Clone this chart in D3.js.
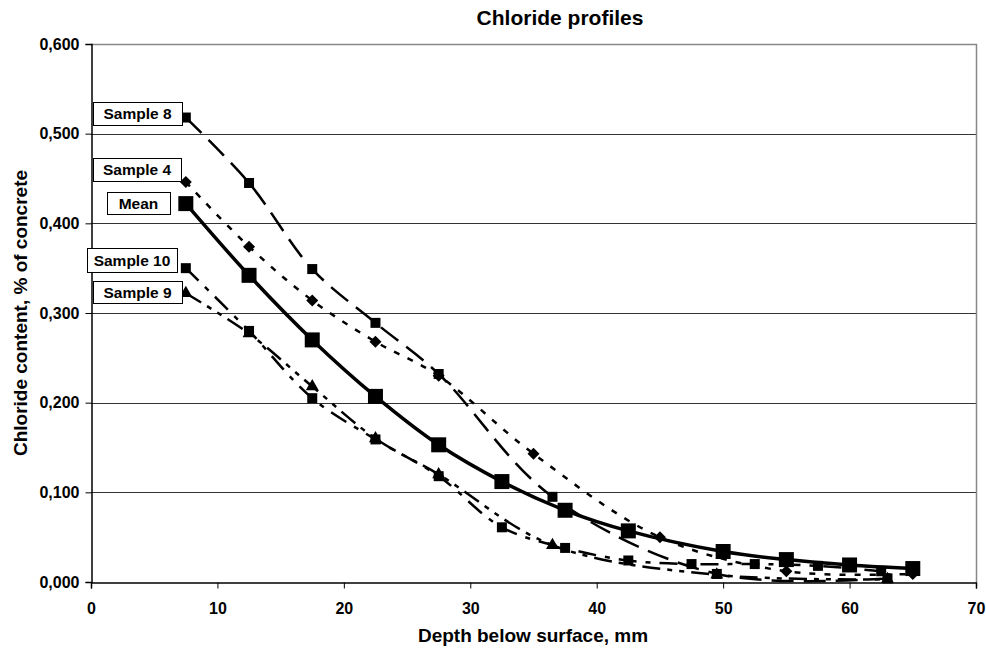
<!DOCTYPE html>
<html>
<head>
<meta charset="utf-8">
<script src="https://cdn.jsdelivr.net/npm/d3@7"></script>
<style>
body{margin:0;background:#fff}
text{font-family:"Liberation Sans",Arial,sans-serif;font-weight:bold;fill:#000}
</style>
</head>
<body>
<svg width="986" height="651"></svg>
<script>
// depth (mm) and chloride content (% of concrete)
let depth8 = [7.5,12.5,17.5,22.5,27.5,36.5,49.5,63];
let sample8 = [0.518,0.445,0.349,0.289,0.232,0.095,0.009,0.004];

let depth4 = [7.5,12.5,17.5,22.5,27.5,35,45,55,65];
let sample4 = [0.446,0.374,0.314,0.268,0.230,0.143,0.050,0.012,0.009];

let depthMean = [7.5,12.5,17.5,22.5,27.5,32.5,37.5,42.5,50,55,60,65];
let mean = [0.422,0.342,0.270,0.207,0.153,0.112,0.080,0.057,0.034,0.025,0.019,0.015];

let depth10 = [7.5,12.5,17.5,22.5,27.5,32.5,37.5,42.5,47.5,52.5,57.5,62.5];
let sample10 = [0.350,0.280,0.205,0.159,0.118,0.061,0.038,0.024,0.020,0.020,0.018,0.012];

let depth9 = [7.5,12.5,17.5,22.5,27.5,36.5,49.5,63];
let sample9 = [0.322,0.277,0.218,0.160,0.120,0.041,0.008,0.003];

let xTicks = [0,10,20,30,40,50,60,70];
let yTicks = [0,0.1,0.2,0.3,0.4,0.5,0.6];

let series = [
  {name:"Sample 8", xs:depth8, ys:sample8, dash:"22,10", w:2.5, marker:"square", size:10},
  {name:"Sample 4", xs:depth4, ys:sample4, dash:"6,9", w:2.5, marker:"diamond", size:8.5},
  {name:"Sample 10", xs:depth10, ys:sample10, dash:"18,9,5,9", w:2.5, marker:"square", size:10},
  {name:"Sample 9", xs:depth9, ys:sample9, dash:"18,7,5,7,5,7", w:2.5, marker:"triangle", size:11},
  {name:"Mean", xs:depthMean, ys:mean, dash:null, w:3.5, marker:"square", size:15}
];

// label boxes next to the first point of each series
let labels = [
  {t:"Sample 8", x:93, y:102, w:89, h:23},
  {t:"Sample 4", x:93, y:158, w:88, h:23},
  {t:"Mean", x:107, y:192, w:63, h:22},
  {t:"Sample 10", x:87, y:248, w:90, h:24},
  {t:"Sample 9", x:93, y:281, w:89, h:22}
];

let svg = d3.select("svg");

let x = d3.scaleLinear().domain([0,70]).range([91,976]);
let y = d3.scaleLinear().domain([0,0.6]).range([582,44]);

// gridlines
svg.append("g")
  .selectAll("line")
  .data(yTicks.filter(d=>d>0 && d<0.6))
  .join("line")
    .attr("x1",91).attr("x2",976)
    .attr("y1",d=>Math.round(y(d))+0.5).attr("y2",d=>Math.round(y(d))+0.5)
    .attr("stroke","#333").attr("stroke-width",1);

// plot border top/right
svg.append("path")
  .attr("d",`M91,${y(0.6)+0.5}H${x(70)+0.5}V${y(0)}`)
  .attr("fill","none").attr("stroke","#888").attr("stroke-width",1.5);

let fmt = d=>d3.format(".3f")(d).replace(".",",");

let yAxis = svg.append("g")
  .attr("transform","translate(91.5,0)")
  .call(d3.axisLeft(y).tickValues(yTicks).tickFormat(fmt).tickSize(6).tickPadding(6));
yAxis.select(".domain").attr("stroke","#000").attr("stroke-width",1.5);
yAxis.selectAll("text").attr("font-size",16).attr("font-family","Liberation Sans, Arial, sans-serif").attr("font-weight","bold");

let xAxis = svg.append("g")
  .attr("transform","translate(0,582.5)")
  .call(d3.axisBottom(x).tickValues(xTicks).tickFormat(d3.format("d")).tickSize(6).tickPadding(14));
xAxis.select(".domain").attr("stroke","#000").attr("stroke-width",1.5);
xAxis.selectAll("text").attr("font-size",16).attr("font-family","Liberation Sans, Arial, sans-serif").attr("font-weight","bold");

// series lines
let line = d3.line()
  .x(d=>x(d[0])).y(d=>y(d[1]))
  .curve(d3.curveCatmullRom.alpha(0.5));

let sym = {square:d3.symbolSquare, diamond:d3.symbolSquare, triangle:d3.symbolTriangle};

series.forEach(s=>{
  let pts = s.xs.map((v,i)=>[v,s.ys[i]]);
  svg.append("path")
    .datum(pts)
    .attr("d",line)
    .attr("fill","none")
    .attr("stroke","#000")
    .attr("stroke-width",s.w)
    .attr("stroke-dasharray",s.dash);
  svg.append("g")
    .selectAll("path")
    .data(pts)
    .join("path")
      .attr("transform",d=>`translate(${x(d[0])},${y(d[1])})` + (s.marker=="diamond" ? " rotate(45)" : ""))
      .attr("d",d3.symbol().type(sym[s.marker]).size(s.marker=="triangle" ? s.size*s.size*0.6 : s.size*s.size))
      .attr("fill","#000");
});

// data labels
let lab = svg.append("g").selectAll("g").data(labels).join("g");
lab.append("rect")
  .attr("x",d=>d.x+0.5).attr("y",d=>d.y+0.5)
  .attr("width",d=>d.w).attr("height",d=>d.h)
  .attr("fill","#fff").attr("stroke","#000").attr("stroke-width",1);
lab.append("text")
  .attr("x",d=>d.x+d.w/2).attr("y",d=>d.y+d.h/2+5.5)
  .attr("text-anchor","middle").attr("font-size",15.5)
  .text(d=>d.t);

// titles
svg.append("text")
  .attr("x",560).attr("y",25)
  .attr("text-anchor","middle").attr("font-size",21)
  .text("Chloride profiles");

svg.append("text")
  .attr("x",533).attr("y",642)
  .attr("text-anchor","middle").attr("font-size",19)
  .text("Depth below surface, mm");

svg.append("text")
  .attr("transform",`translate(27,${(44+582)/2}) rotate(-90)`)
  .attr("text-anchor","middle").attr("font-size",19)
  .text("Chloride content, % of concrete");
</script>
</body>
</html>
